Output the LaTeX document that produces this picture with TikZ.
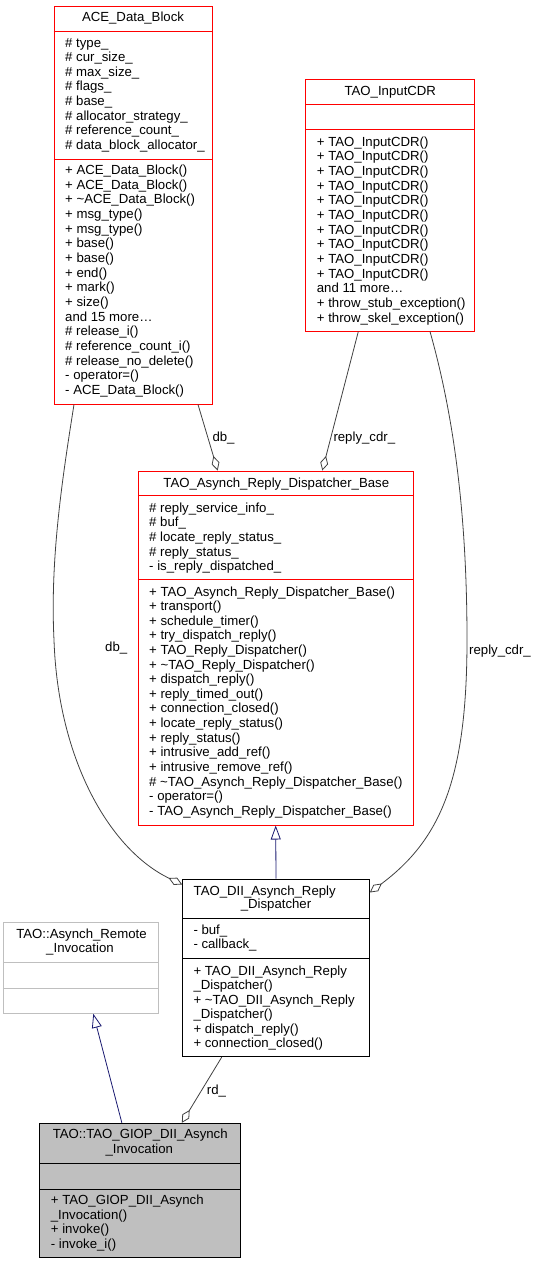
\documentclass[tikz,border=0pt]{standalone}
\usepackage{fontspec}
\setmainfont{Liberation Sans}
\usetikzlibrary{arrows.meta}
\definecolor{edgegray}{HTML}{404040}
\definecolor{navyblue}{HTML}{191970}
\definecolor{lgray}{HTML}{BFBFBF}
\newcommand\fsz{\fontsize{13.2}{14.67}\selectfont}
\newcommand\mlines[5]{\foreach \t [count=\i from 0] in {#5} \node[mtxt] (#1-\i) at (#2,#3+\i*#4) {\t};}
\begin{document}
\begin{tikzpicture}[x=1pt,y=-1pt,
 cls/.style={draw=#1, line width=1pt, inner sep=0, fill=white},
 sepline/.style={draw=#1, line width=1pt},
 mtxt/.style={anchor=base west, inner sep=0, font=\fsz},
 ttl/.style={anchor=base, inner sep=0, font=\fsz},
 comp/.style={draw=edgegray, line width=0.8pt, -{Diamond[open,length=15pt,width=8pt]}},
 inh/.style={draw=navyblue, line width=0.8pt, -{Triangle[open,length=14pt,width=10pt]}},
 lbl/.style={anchor=base west, inner sep=0, font=\fsz}]
\useasboundingbox (0,0) rectangle (536,1264);

% ACE_Data_Block
\node[cls=red, minimum width=158pt, minimum height=398pt] (ace) at (133,205) {};
\draw[sepline=red] (ace.west |- 0,31) -- (ace.east |- 0,31);
\draw[sepline=red] (ace.west |- 0,159) -- (ace.east |- 0,159);
\node[ttl] (ace-t) at (133,21.7) {ACE\_Data\_Block};
\mlines{acea}{65}{47}{14.65}{\# type\_, \# cur\_size\_, \# max\_size\_, \# flags\_, \# base\_, \# allocator\_strategy\_, \# reference\_count\_, \# data\_block\_allocator\_}
\mlines{acem}{65}{174.6}{14.65}{+ ACE\_Data\_Block(), + ACE\_Data\_Block(), + \textasciitilde ACE\_Data\_Block(), + msg\_type(), + msg\_type(), + base(), + base(), + end(), + mark(), + size(), and 15 more\ldots, \# release\_i(), \# reference\_count\_i(), \# release\_no\_delete(), - operator=(), - ACE\_Data\_Block()}

% TAO_InputCDR
\node[cls=red, minimum width=169.3pt, minimum height=251.7pt] (cdr) at (390.3,205.2) {};
\draw[sepline=red] (cdr.west |- 0,104.3) -- (cdr.east |- 0,104.3);
\draw[sepline=red] (cdr.west |- 0,129.7) -- (cdr.east |- 0,129.7);
\node[ttl] (cdr-t) at (390.3,95) {TAO\_InputCDR};
\mlines{cdrm}{316.7}{146}{14.67}{+ TAO\_InputCDR(), + TAO\_InputCDR(), + TAO\_InputCDR(), + TAO\_InputCDR(), + TAO\_InputCDR(), + TAO\_InputCDR(), + TAO\_InputCDR(), + TAO\_InputCDR(), + TAO\_InputCDR(), + TAO\_InputCDR(), and 11 more\ldots, + throw\_stub\_exception(), + throw\_skel\_exception()}

% TAO_Asynch_Reply_Dispatcher_Base
\node[cls=red, minimum width=274.7pt, minimum height=354pt] (base) at (275.7,648) {};
\draw[sepline=red] (base.west |- 0,495.7) -- (base.east |- 0,495.7);
\draw[sepline=red] (base.west |- 0,579.3) -- (base.east |- 0,579.3);
\node[ttl] (base-t) at (276.3,487) {TAO\_Asynch\_Reply\_Dispatcher\_Base};
\mlines{basea}{149}{512}{14.72}{\# reply\_service\_info\_, \# buf\_, \# locate\_reply\_status\_, \# reply\_status\_, - is\_reply\_dispatched\_}
\mlines{basem}{149}{596}{14.62}{+ TAO\_Asynch\_Reply\_Dispatcher\_Base(), + transport(), + schedule\_timer(), + try\_dispatch\_reply(), + TAO\_Reply\_Dispatcher(), + \textasciitilde TAO\_Reply\_Dispatcher(), + dispatch\_reply(), + reply\_timed\_out(), + connection\_closed(), + locate\_reply\_status(), + reply\_status(), + intrusive\_add\_ref(), + intrusive\_remove\_ref(), \# \textasciitilde TAO\_Asynch\_Reply\_Dispatcher\_Base(), - operator=(), - TAO\_Asynch\_Reply\_Dispatcher\_Base()}

% TAO_DII_Asynch_Reply_Dispatcher
\node[cls=black, minimum width=186.6pt, minimum height=177.7pt] (dii) at (276,967.85) {};
\draw[sepline=black] (dii.west |- 0,918.7) -- (dii.east |- 0,918.7);
\draw[sepline=black] (dii.west |- 0,958.7) -- (dii.east |- 0,958.7);
\node[ttl] (dii-t1) at (264.7,895) {TAO\_DII\_Asynch\_Reply};
\node[ttl] (dii-t2) at (276,908.6) {\_Dispatcher};
\mlines{diia}{193.3}{934.6}{14}{- buf\_, - callback\_}
\mlines{diim}{193.3}{975}{14.5}{+ TAO\_DII\_Asynch\_Reply, \_Dispatcher(), + \textasciitilde TAO\_DII\_Asynch\_Reply, \_Dispatcher(), + dispatch\_reply(), + connection\_closed()}

% TAO::Asynch_Remote_Invocation
\node[cls=lgray, minimum width=155.4pt, minimum height=91pt] (asyn) at (81,967.8) {};
\draw[sepline=lgray] (asyn.west |- 0,962.7) -- (asyn.east |- 0,962.7);
\draw[sepline=lgray] (asyn.west |- 0,988) -- (asyn.east |- 0,988);
\node[ttl] (asyn-t1) at (81.5,938.3) {TAO::Asynch\_Remote};
\node[ttl] (asyn-t2) at (80,952.6) {\_Invocation};

% TAO::TAO_GIOP_DII_Asynch_Invocation
\node[cls=black, fill=lgray, minimum width=200.3pt, minimum height=134.4pt] (giop) at (139.85,1190.5) {};
\draw[sepline=black] (giop.west |- 0,1163.3) -- (giop.east |- 0,1163.3);
\draw[sepline=black] (giop.west |- 0,1189) -- (giop.east |- 0,1189);
\node[ttl] (giop-t1) at (140.2,1138.6) {TAO::TAO\_GIOP\_DII\_Asynch};
\node[ttl] (giop-t2) at (139.3,1153.3) {\_Invocation};
\mlines{giopm}{50.7}{1204.6}{14.67}{+ TAO\_GIOP\_DII\_Asynch, \_Invocation(), + invoke(), - invoke\_i()}

% connectors
\draw[comp] ([xshift=65pt]ace.south) -- ([xshift=-58pt]base.north);
\node[lbl] (l-db1) at (212.3,441) {db\_};
\draw[comp] ([xshift=-32pt]cdr.south) -- ([xshift=46.6pt]base.north);
\node[lbl] (l-cdr1) at (333.3,441) {reply\_cdr\_};
\draw[comp] ([xshift=-59pt]ace.south) .. controls (62,480) and (50,560) .. (54,640) .. controls (58,760) and (110,850) .. ([yshift=-6pt]dii.north west);
\node[lbl] (l-db2) at (105,651) {db\_};
\draw[comp] ([xshift=39.7pt]cdr.south) .. controls (455,420) and (467,520) .. (467,640) .. controls (467,780) and (440,840) .. ([yshift=-14pt]dii.north east);
\node[lbl] (l-cdr2) at (469,654.5) {reply\_cdr\_};
\draw[inh] (dii.north) -- (base.south);
\draw[inh] ([xshift=-18pt]giop.north) -- ([xshift=12.3pt]asyn.south);
\draw[comp] ([xshift=-54.3pt]dii.south) -- ([xshift=42pt]giop.north);
\node[lbl] (l-rd) at (206.7,1094.3) {rd\_};
\end{tikzpicture}
\end{document}
